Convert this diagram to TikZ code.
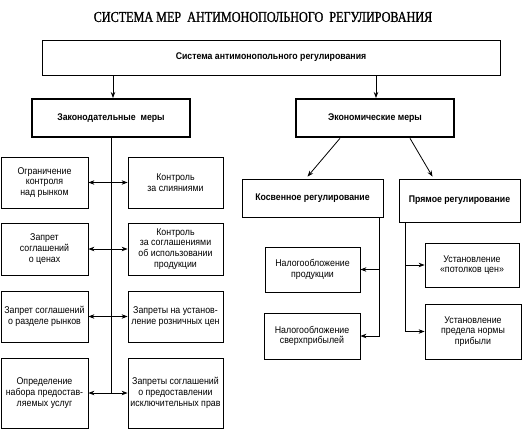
\documentclass[tikz,border=0pt]{standalone}
\usepackage{fontspec}
\setmainfont[FakeStretch=0.9]{Liberation Sans}
\newfontfamily\titlefont[FakeStretch=0.81,FakeBold=1]{Liberation Serif}
\usetikzlibrary{arrows.meta}

\tikzset{
  box/.style={draw, line width=1pt, align=center, inner sep=1pt,
    font=\fontsize{9.7}{11}\selectfont\bfseries},
  thickbox/.style={box, line width=2.6pt},
  item/.style={draw, line width=0.8pt, align=center, inner sep=1pt,
    font=\fontsize{9.8}{10.8}\selectfont},
  arr/.style={line width=0.8pt, -{Stealth[length=6pt,width=4.5pt]}},
  darr/.style={line width=0.8pt, {Stealth[length=6pt,width=4.5pt]}-{Stealth[length=6pt,width=4.5pt]}}
}

\begin{document}
\begin{tikzpicture}[x=1pt,y=-1pt]
      \useasboundingbox (0,0) rectangle (522,432);
      \node[font=\titlefont\fontsize{15}{17}\selectfont] (title) at (263,17) {СИСТЕМА МЕР\ \ АНТИМОНОПОЛЬНОГО\ \ РЕГУЛИРОВАНИЯ};

      \node[box, minimum width=458pt, minimum height=35pt] (sys) at (271,57.5) {Система антимонопольного регулирования};
      \node[thickbox, minimum width=158pt, minimum height=38pt] (zak) at (111,118) {Законодательные\ \ меры};
      \node[thickbox, minimum width=158pt, minimum height=38pt] (ek) at (375,118) {Экономические меры};

      \draw[arr] (sys.south -| 113,0) -- (113,98);
      \draw[arr] (sys.south -| 376,0) -- (376,98);

      \node[item, minimum width=87pt, minimum height=51pt] (l1) at (44.5,182.5) {Ограничение\\контроля\\над рынком};
      \node[item, minimum width=87pt, minimum height=52pt] (l2) at (44.5,249) {Запрет\\соглашений\\о ценах};
      \node[item, minimum width=87pt, minimum height=51pt] (l3) at (44.5,316.5) {Запрет соглашений\\о разделе рынков};
      \node[item, minimum width=87pt, minimum height=70pt] (l4) at (44.5,393) {Определение\\набора предостав-\\ляемых услуг};

      \node[item, minimum width=95pt, minimum height=51pt] (r1) at (175.5,182.5) {Контроль\\за слияниями};
      \node[item, minimum width=95pt, minimum height=52pt] (r2) at (175.5,249) {Контроль\\за соглашениями\\об использовании\\продукции};
      \node[item, minimum width=95pt, minimum height=51pt] (r3) at (175.5,316.5) {Запреты на установ-\\ление розничных цен};
      \node[item, minimum width=95pt, minimum height=70pt] (r4) at (175.5,393) {Запреты соглашений\\о предоставлении\\исключительных прав};

      \draw[line width=0.8pt] (zak.south) -- (zak.south |- l4.east);
      \draw[darr] (l1) -- (r1);
      \draw[darr] (l2) -- (r2);
      \draw[darr] (l3) -- (r3);
      \draw[darr] (l4) -- (r4);

      \node[box, line width=0.8pt, minimum width=141pt, minimum height=38pt] (kos) at (312.5,198) {Косвенное регулирование};
      \node[box, line width=0.8pt, minimum width=121pt, minimum height=43pt] (pr) at (459.5,200.5) {Прямое регулирование};

      \draw[arr] ([xshift=-35pt]ek.south) -- ([xshift=-5pt,yshift=2pt]kos.north);
      \draw[arr] ([xshift=35pt]ek.south) -- ([xshift=-27pt,yshift=2pt]pr.north);

      \node[item, minimum width=95pt, minimum height=45pt] (n1) at (312.5,269.5) {Налогообложение\\продукции};
      \node[item, minimum width=96pt, minimum height=46pt] (n2) at (312,336) {Налогообложение\\сверхприбылей};
      \node[item, minimum width=94pt, minimum height=44pt] (u1) at (472,265) {Установление\\«потолков цен»};
      \node[item, minimum width=96pt, minimum height=55pt] (u2) at (473,331.5) {Установление\\предела нормы\\прибыли};

      \draw[arr] ([xshift=-4pt]kos.south east) |- (n1);
      \draw[arr] ([xshift=-4pt]kos.south east) |- (n2);
      \draw[arr] ([xshift=7pt]pr.south west) |- (u1);
      \draw[arr] ([xshift=7pt]pr.south west) |- (u2);
    \end{tikzpicture}
\end{document}
